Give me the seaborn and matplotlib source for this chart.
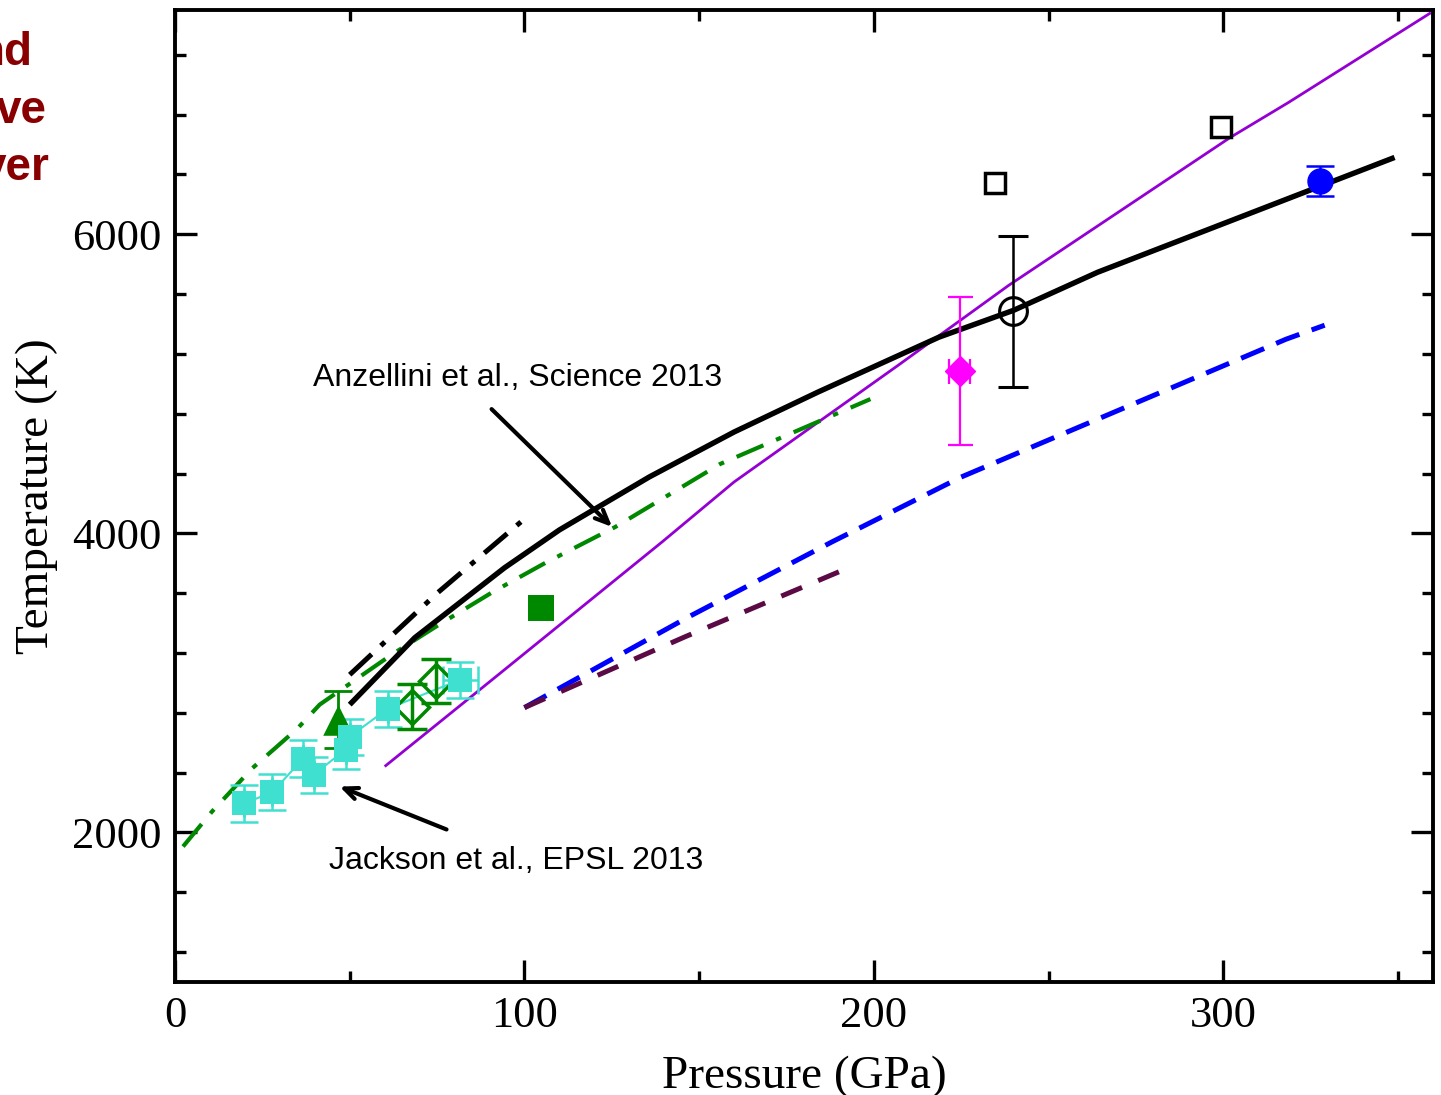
import numpy as np
import pandas as pd
import matplotlib
matplotlib.use("Agg")
import matplotlib.pyplot as plt
import seaborn as sns
from matplotlib.ticker import MultipleLocator

# ---------------- data ----------------
# Anzellini et al. melting curve (black solid)
anz_p = [50, 68.6, 94.3, 110, 135.7, 160, 184, 218.6, 240, 264, 349]
anz_t = [2855, 3302, 3770, 4023, 4377, 4678, 4945, 5312, 5492, 5746, 6514]
# black dash-dot short curve
bdd_p = [50, 75, 99]
bdd_t = [3055, 3600, 4077]
# green dash-dot curve
gdd_p = [2.3, 10.6, 22, 35, 41.4, 62, 76, 91, 106, 126, 156, 199]
gdd_t = [1906, 2140, 2427, 2694, 2855, 3189, 3396, 3609, 3803, 4043, 4464, 4898]
# purple solid curve
pur_p = [60, 92.9, 139.4, 160, 207, 238.6, 302, 318.6, 359.4]
pur_t = [2441, 3062, 3943, 4344, 5125, 5659, 6648, 6881, 7482]
# blue dashed curve
blu_p = [100, 147, 188, 225, 318, 329]
blu_t = [2835, 3442, 3943, 4377, 5299, 5392]
# maroon dashed curve
mar_p = [100, 146, 190]
mar_t = [2835, 3309, 3743]

# Jackson et al. (turquoise squares)
jac_p = [19.7, 27.9, 36.6, 39.7, 48.8, 50.0, 60.9, 81.7]
jac_t = [2194, 2269, 2494, 2387, 2554, 2641, 2828, 3022]
jac_terr = [125, 120, 125, 120, 130, 120, 120, 120]
jac_perr = [0, 0, 0, 0, 0, 0, 0, 5]

# green triangle
tri_p, tri_t, tri_err = [46.6], [2755], [190]
# green open diamonds
dia_p = [67.9, 74.8]
dia_t = [2841, 3013]
dia_err = [150, 150]
# green filled square
gsq_p, gsq_t = [104.6], [3503]
# magenta diamond
mag_p, mag_t, mag_err, mag_perr = [224.6], [5085], [495], [3]
# black open circle
cir_p, cir_t, cir_err = [239.7], [5486], [505]
# black open squares
osq_p = [234.6, 299.4]
osq_t = [6341, 6715]
# blue filled circle
bc_p, bc_t, bc_err = [327.7], [6354], [100]

# annotation labels
anz_label = "Anzellini et al., Science 2013"
jac_label = "Jackson et al., EPSL 2013"
side_texts = ["nd", "ve", "ver"]

# ---------------- figure ----------------
sns.set_theme(style="white")
plt.rcParams['font.family'] = ['Liberation Serif', 'DejaVu Serif']
plt.rcParams['text.color'] = 'black'
plt.rcParams['axes.labelcolor'] = 'black'
plt.rcParams['xtick.color'] = 'black'
plt.rcParams['ytick.color'] = 'black'
fig = plt.figure(figsize=(14.41, 10.95), dpi=100)
ax = fig.add_axes([175/1441, 1-982/1095, (1433-175)/1441, (982-10)/1095])

def line(px, ty, color, lw, dashes=None, z=3):
    df = pd.DataFrame({"P": px, "T": ty})
    sns.lineplot(data=df, x="P", y="T", sort=False, estimator=None, color=color,
                 lw=lw, ax=ax, zorder=z)
    l = ax.lines[-1]
    if dashes is not None:
        l.set_dashes(dashes)
    l.set_solid_capstyle('butt')
    l.set_dash_capstyle('butt')

line(pur_p, pur_t, '#9400D3', 2.0, z=2)
line(gdd_p, gdd_t, '#008800', 3.0, dashes=[7, 3.3, 1.3, 3.3])
line(bdd_p, bdd_t, 'black', 3.6, dashes=[6, 2.5, 1.1, 2.5])
line(anz_p, anz_t, 'black', 3.9)
line(blu_p, blu_t, '#0000FF', 3.6, dashes=[5, 2.6])
line(mar_p, mar_t, '#5C0A45', 3.6, dashes=[4.5, 3.5])

# Jackson et al. data
jdf = pd.DataFrame({"P": jac_p, "T": jac_t})
sns.lineplot(data=jdf, x="P", y="T", sort=False, estimator=None, color='#40E0D0',
             lw=1.5, ax=ax, zorder=4)
ax.errorbar(jac_p, jac_t, yerr=jac_terr, xerr=jac_perr, fmt='none', ecolor='#40E0D0',
            elinewidth=1.8, capsize=10, capthick=1.8, zorder=4)
sns.scatterplot(x=jac_p, y=jac_t, marker='s', s=17**2, color='#40E0D0',
                linewidth=0, ax=ax, zorder=5)

# green triangle
ax.errorbar(tri_p, tri_t, yerr=tri_err, fmt='none', ecolor='#008800',
            elinewidth=2, capsize=10, capthick=2, zorder=4)
sns.scatterplot(x=tri_p, y=tri_t, marker='^', s=22**2, color='#008800',
                linewidth=0, ax=ax, zorder=4)

# green open diamonds
ax.errorbar(dia_p, dia_t, yerr=dia_err, fmt='D', mfc='none', mec='#008800', mew=2.5,
            ms=17, ecolor='#008800', elinewidth=2.5, capsize=11, capthick=2.5, zorder=4)

# green filled square
sns.scatterplot(x=gsq_p, y=gsq_t, marker='s', s=19**2, color='#008800',
                linewidth=0, ax=ax, zorder=4)

# magenta diamond
ax.errorbar(mag_p, mag_t, yerr=mag_err, xerr=mag_perr, fmt='D', color='#FF00FF',
            ms=15, ecolor='#FF00FF', elinewidth=1.6, capsize=9, capthick=1.6, zorder=5)

# black open circle
ax.errorbar(cir_p, cir_t, yerr=cir_err, fmt='o', mfc='none', mec='black', mew=2.2,
            ms=20, ecolor='black', elinewidth=1.8, capsize=11, capthick=2.2, zorder=5)

# black open squares
ax.plot(osq_p, osq_t, 's', mfc='none', mec='black', mew=2.5, ms=14, zorder=5,
        linestyle='none')

# blue filled circle
ax.errorbar(bc_p, bc_t, yerr=bc_err, fmt='o', color='#0000FF', ms=18,
            ecolor='#0000FF', elinewidth=1.8, capsize=10, capthick=1.8, zorder=5)

# ---------------- annotations ----------------
sans = ['Liberation Sans', 'DejaVu Sans']
arrow = dict(arrowstyle='->,head_length=0.8,head_width=0.35', lw=3,
             color='black', shrinkA=0, shrinkB=0)
ax.text(98, 5038, anz_label, ha='center', va='center', fontsize=23, family=sans)
ax.annotate("", xy=(125.1, 4043), xytext=(90.6, 4831), arrowprops=arrow)
ax.text(97.7, 1806, jac_label, ha='center', va='center', fontsize=23, family=sans)
ax.annotate("", xy=(47.1, 2307), xytext=(77.7, 2020), arrowprops=arrow)

# red text at the left edge (partially outside the figure, as in the original)
for txt, xr, yc in zip(side_texts, [33, 47, 50], [53, 111, 168]):
    fig.text(xr/1441, 1-yc/1095, txt, ha='right', va='center', fontsize=33,
             fontweight='bold', color='#880000', family=sans)

# ---------------- axes styling ----------------
ax.set_xlim(0, 360)
ax.set_ylim(1000, 7500)
ax.xaxis.set_major_locator(MultipleLocator(100))
ax.xaxis.set_minor_locator(MultipleLocator(50))
ax.yaxis.set_major_locator(MultipleLocator(2000))
ax.yaxis.set_minor_locator(MultipleLocator(400))
ax.tick_params(which='both', direction='in', top=True, right=True,
               bottom=True, left=True, width=2.4, color='black', labelcolor='black')
ax.tick_params(which='major', length=16, labelsize=32, pad=10)
ax.tick_params(which='minor', length=8)
for s in ax.spines.values():
    s.set_linewidth(2.8)
    s.set_color('black')
ax.set_xlabel("Pressure (GPa)", fontsize=34, labelpad=14, color='black')
ax.set_ylabel("Temperature (K)", fontsize=34, labelpad=10, color='black')
ax.grid(False)

fig.savefig("out.png", dpi=100)
